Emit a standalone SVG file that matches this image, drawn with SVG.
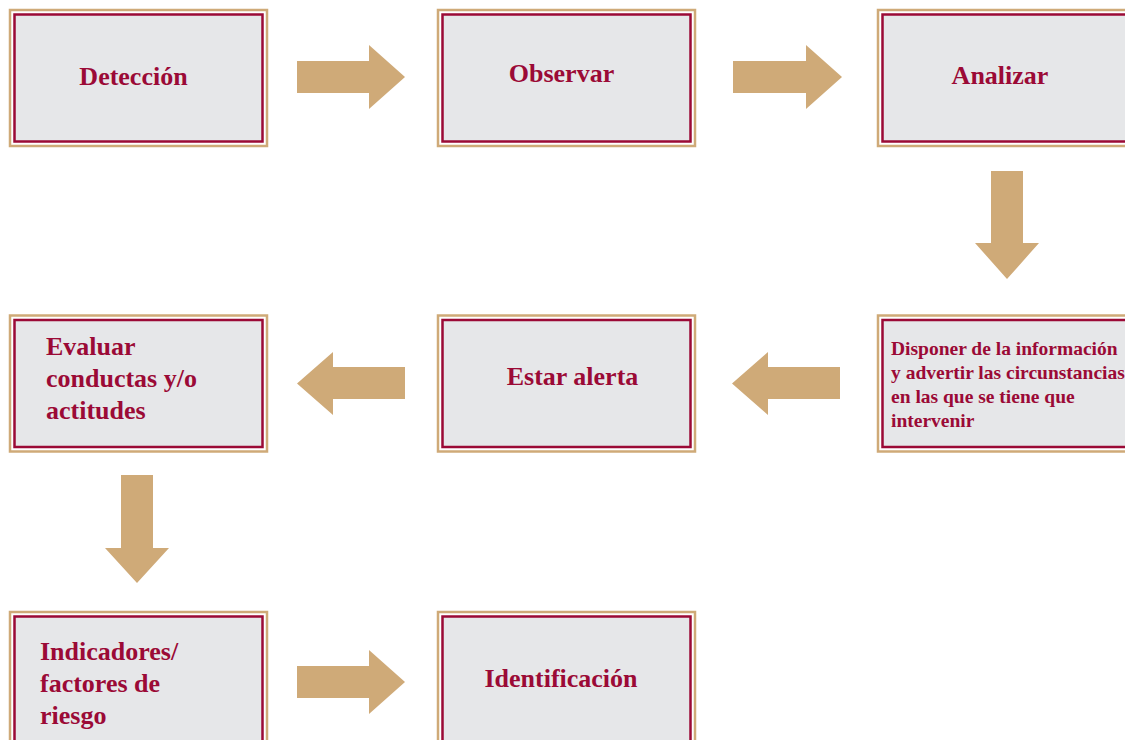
<svg xmlns="http://www.w3.org/2000/svg" width="1125" height="740" viewBox="0 0 1125 740">
<defs>
<style>
.outer{fill:#ffffff;stroke:#cfaa78;stroke-width:2.5}
.inner{fill:#e6e7e9;stroke:#9b0a36;stroke-width:2.5}
.t{font-family:"Liberation Serif","DejaVu Serif",serif;font-weight:bold;fill:#9b0a36;font-size:26px}
.c{text-anchor:middle}
.s{font-size:19.5px}
.arrow{fill:#cfaa78}
</style>
</defs>
<rect width="1125" height="740" fill="#ffffff"/>
<g id="n-deteccion">
<rect class="outer" x="10" y="10" width="257" height="136"/>
<rect class="inner" x="14.5" y="14.5" width="248" height="127"/>
<text class="t c" x="133.5" y="85">Detección</text>
</g>
<g id="n-observar">
<rect class="outer" x="438" y="10" width="257" height="136"/>
<rect class="inner" x="442.5" y="14.5" width="248" height="127"/>
<text class="t c" x="561.5" y="82">Observar</text>
</g>
<g id="n-analizar">
<rect class="outer" x="878" y="10" width="257" height="136"/>
<rect class="inner" x="882.5" y="14.5" width="248" height="127"/>
<text class="t c" x="1000" y="84">Analizar</text>
</g>
<g id="n-disponer">
<rect class="outer" x="878" y="315.5" width="257" height="136"/>
<rect class="inner" x="882.5" y="320" width="248" height="127"/>
<text class="t s" x="891" y="355">Disponer de la información</text>
<text class="t s" x="891" y="379">y advertir las circunstancias</text>
<text class="t s" x="891" y="403">en las que se tiene que</text>
<text class="t s" x="891" y="427">intervenir</text>
</g>
<g id="n-estar">
<rect class="outer" x="438" y="315.5" width="257" height="136"/>
<rect class="inner" x="442.5" y="320" width="248" height="127"/>
<text class="t c" x="572.5" y="385">Estar alerta</text>
</g>
<g id="n-evaluar">
<rect class="outer" x="10" y="315.5" width="257" height="136"/>
<rect class="inner" x="14.5" y="320" width="248" height="127"/>
<text class="t" x="46" y="355">Evaluar</text>
<text class="t" x="46" y="387">conductas y/o</text>
<text class="t" x="46" y="419">actitudes</text>
</g>
<g id="n-indicadores">
<rect class="outer" x="10" y="612" width="257" height="136"/>
<rect class="inner" x="14.5" y="616.5" width="248" height="127"/>
<text class="t" x="40" y="660">Indicadores/</text>
<text class="t" x="40" y="692">factores de</text>
<text class="t" x="40" y="724">riesgo</text>
</g>
<g id="n-identificacion">
<rect class="outer" x="438" y="612" width="257" height="136"/>
<rect class="inner" x="442.5" y="616.5" width="248" height="127"/>
<text class="t c" x="561" y="687">Identificación</text>
</g>
<g id="connectors">
<polygon class="arrow" points="297,61 369,61 369,45 405,77 369,109 369,93 297,93"/>
<polygon class="arrow" points="733,61 806,61 806,45 842,77 806,109 806,93 733,93"/>
<polygon class="arrow" points="991,171 1023,171 1023,243 1039,243 1007,279 975,243 991,243"/>
<polygon class="arrow" points="840,367 768,367 768,352 732,383.5 768,415 768,399 840,399"/>
<polygon class="arrow" points="405,367 333,367 333,352 297,383.5 333,415 333,399 405,399"/>
<polygon class="arrow" points="121,475 153,475 153,548 169,548 137,583 105,548 121,548"/>
<polygon class="arrow" points="297,666 369,666 369,650 405,682 369,714 369,698 297,698"/>
</g>
</svg>
